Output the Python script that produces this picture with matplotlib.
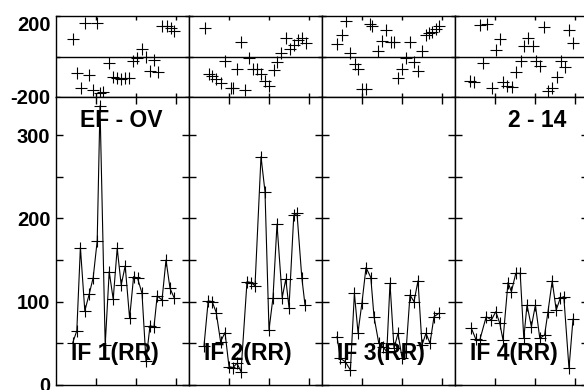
import numpy as np
import matplotlib.pyplot as plt

plt.rcParams['font.family'] = ['Liberation Sans', 'DejaVu Sans']
plt.rcParams['font.weight'] = 'bold'

# phase panels (top row), one scatter per IF
x1t = [4.2, 5.3, 6.25, 7.25, 8.3, 9.3, 10.3, 11, 11.8, 13.25, 14.2, 15.2, 16.2, 17.3, 18.3, 19.3, 20.3, 21.4, 22.4, 23.5, 24.5, 25.6, 26.6, 27.7, 28.7, 29.5]
y1t = [87, -83, -155, 165, -89, -165, 165, -180, -175, -31, -99, -106, -112, -106, -106, -20, -7, 38, 0, -73, -16, -78, 153, 153, 142, 125]
x2t = [4, 5, 5.8, 6.8, 7.9, 9, 10.4, 11, 12.1, 13, 14, 15, 16, 17, 18, 19, 20, 21.2, 22.1, 23, 24.3, 25.3, 26.2, 27.3, 28.3, 29.3]
y2t = [142, -86, -94, -110, -132, -20, -155, -155, -61, 71, -165, -7, -61, -61, -86, -119, -144, -69, -25, 17, 92, 38, 59, 83, 92, 66]
x3t = [3.8, 4.9, 5.9, 7, 8.25, 9, 9.9, 10.9, 11.9, 12.6, 14, 15.1, 15.9, 17.2, 18, 19.1, 19.9, 20.9, 21.9, 23, 24.1, 25.1, 25.9, 26.75, 27.6, 28.4, 29.25]
y3t = [63, 104, 175, 16, -36, -61, -160, -160, 162, 150, 28, 79, 132, 71, 71, -106, -61, -7, 71, -28, -73, 26, 104, 115, 120, 137, 153]
x4t = [3.75, 4.75, 6.25, 7.1, 7.9, 9.2, 10.25, 11.25, 12.1, 12.9, 14.2, 15.2, 16.4, 17.25, 18.3, 19.4, 20.25, 21.25, 22.25, 23.3, 24.2, 25.4, 26.4, 27.5, 28.6, 29.4]
y4t = [-119, -124, 158, -33, 162, -155, 30, 87, -127, -144, -149, -78, -20, 54, 92, 54, -23, -49, 145, -168, -155, -99, -20, -50, 132, 66]

# amplitude panels (bottom row)
x1b = [4.2, 5.2, 6.1, 7.2, 8.3, 9.3, 10.3, 11, 12.3, 13.3, 14.3, 15.3, 16.3, 17.3, 18.4, 19.4, 20.4, 21.5, 22.5, 23.5, 24.5, 25.3, 26.5, 27.5, 28.5, 29.5]
y1b = [51, 65, 165, 89, 109, 129, 173, 335, 48, 136, 103, 164, 120, 143, 80, 130, 128, 110, 29, 71, 70, 107, 102, 150, 116, 105]
x2b = [3.75, 4.8, 5.8, 6.8, 7.9, 9, 10, 11, 12, 13, 14.5, 15.5, 16.5, 18, 19, 20, 21, 22, 23.3, 24.2, 25, 26.2, 27, 28.2, 29]
y2b = [47, 101, 100, 87, 52, 63, 22, 21, 26, 16, 124, 123, 119, 274, 232, 66, 105, 193, 105, 127, 93, 204, 206, 129, 96]
x3b = [3.75, 4.6, 5.8, 7.1, 8.1, 9, 10, 11, 12.2, 13, 14.2, 15.2, 16.2, 17, 18, 19, 20, 21, 22, 23, 24, 25, 26, 27, 28, 29.2]
y3b = [58, 32, 28, 18, 110, 63, 99, 141, 129, 82, 50, 46, 40, 122, 44, 62, 33, 40, 108, 100, 125, 48, 62, 50, 82, 86]
x4b = [4.1, 5.2, 6.2, 7.8, 9.1, 10.2, 11.2, 12, 13.25, 14.1, 15.2, 16.3, 17.2, 18, 19.1, 20.1, 21.2, 22.4, 23.25, 24.3, 25.3, 26.3, 27.2, 28.5, 29.5]
y4b = [68, 55, 54, 82, 78, 88, 74, 54, 123, 112, 134, 134, 56, 96, 70, 96, 56, 60, 88, 125, 90, 104, 106, 20, 79]

phase = [(x1t, y1t), (x2t, y2t), (x3t, y3t), (x4t, y4t)]
amp = [(x1b, y1b), (x2b, y2b), (x3b, y3b), (x4b, y4b)]
if_labels = ['IF 1(RR)', 'IF 2(RR)', 'IF 3(RR)', 'IF 4(RR)']

fig = plt.figure(figsize=(5.84, 3.9), dpi=100)
left0 = 56 / 584
w = 133 / 584

for i in range(4):
    l = left0 + i * w
    ax_t = fig.add_axes([l, 293 / 390, w, 81 / 390])
    ax_b = fig.add_axes([l, 5 / 390, w, 288 / 390])

    xt, yt = phase[i]
    ax_t.plot(xt, yt, '+', color='k', ms=9, mew=0.8)
    ax_t.axhline(0, color='k', lw=1)
    ax_t.set_xlim(0, 33.25)
    ax_t.set_ylim(-200, 200)
    ax_t.set_xticks([10, 20, 30])
    ax_t.set_yticks([-200, 0, 200])
    ax_t.tick_params(direction='in', top=True, right=True, length=3, width=1,
                     labelbottom=False, labelleft=(i == 0), labelsize=14.5, pad=4)
    if i == 0:
        labs = ax_t.set_yticklabels(['-200', '', '200'], fontweight='bold')
        labs[2].set_verticalalignment('top')

    xb, yb = amp[i]
    ax_b.plot(xb, yb, '-', color='k', lw=0.8, marker='+', ms=9, mew=0.8)
    ax_b.set_xlim(0, 33.25)
    ax_b.set_ylim(0, 345.6)
    ax_b.set_xticks([10, 20, 30])
    ax_b.set_yticks(np.arange(0, 301, 50))
    ax_b.tick_params(direction='in', top=True, right=True, length=5, width=1,
                     labelbottom=False, labelleft=(i == 0), labelsize=14.5, pad=4)
    if i == 0:
        ax_b.set_yticklabels(['0', '', '100', '', '200', '', '300'], fontweight='bold')

    for ax in (ax_t, ax_b):
        for s in ax.spines.values():
            s.set_linewidth(1)

    ax_b.text(0.115, 0.108, if_labels[i], transform=ax_b.transAxes,
              fontsize=16.5, fontweight='bold', ha='left', va='center')
    if i == 0:
        ax_b.text(0.18, 0.918, 'EF - OV', transform=ax_b.transAxes,
                  fontsize=16.5, fontweight='bold', ha='left', va='center')
    if i == 3:
        ax_b.text(0.398, 0.918, '2 - 14', transform=ax_b.transAxes,
                  fontsize=16.5, fontweight='bold', ha='left', va='center')

fig.savefig('out.png', dpi=100)
